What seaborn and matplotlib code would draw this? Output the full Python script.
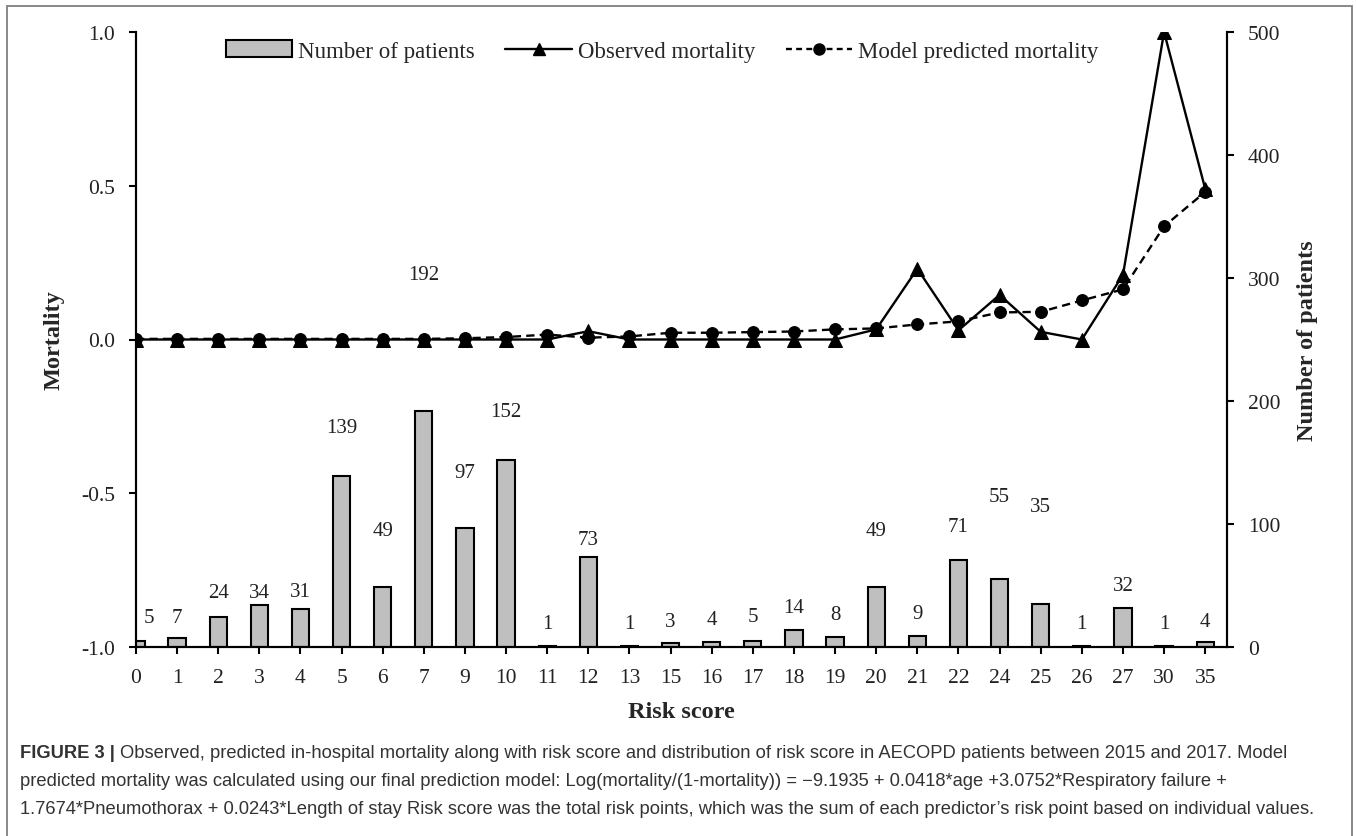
import numpy as np
import pandas as pd
import seaborn as sns
import matplotlib.pyplot as plt
from matplotlib.lines import Line2D
from matplotlib.patches import Patch, Rectangle

# risk score categories (x axis)
scores = ['0', '1', '2', '3', '4', '5', '6', '7', '9', '10', '11', '12', '13', '15',
          '16', '17', '18', '19', '20', '21', '22', '24', '25', '26', '27', '30', '35']

# number of patients per score (right axis)
patients = [5, 7, 24, 34, 31, 139, 49, 192, 97, 152, 1, 73, 1, 3,
            4, 5, 14, 8, 49, 9, 71, 55, 35, 1, 32, 1, 4]

# observed mortality (left axis)
observed = [0, 0, 0, 0, 0, 0, 0, 0, 0, 0, 0, 0.027, 0, 0,
            0, 0, 0, 0, 0.033, 0.23, 0.03, 0.145, 0.025, 0, 0.21, 1.0, 0.49]

# model predicted mortality (left axis)
predicted = [0.002, 0.002, 0.002, 0.002, 0.002, 0.002, 0.002, 0.002, 0.004, 0.008, 0.016, 0.006, 0.01, 0.022,
             0.022, 0.024, 0.026, 0.033, 0.036, 0.049, 0.059, 0.088, 0.09, 0.127, 0.163, 0.368, 0.48]

# where each count label sits relative to its bar top (px), as placed in the original
label_lift = [23, 21, 25, 13, 17, 49, 56, 136, 55, 49, 22, 18, 22, 22,
              23, 24, 22, 23, 56, 22, 33, 83, 97, 22, 22, 22, 21]
label_dx = [13] + [0] * 26

caption = [
    "Observed, predicted in-hospital mortality along with risk score and distribution of risk score in AECOPD patients between 2015 and 2017. Model",
    "predicted mortality was calculated using our final prediction model: Log(mortality/(1-mortality)) = \u22129.1935 + 0.0418*age +3.0752*Respiratory failure +",
    "1.7674*Pneumothorax + 0.0243*Length of stay Risk score was the total risk points, which was the sum of each predictor\u2019s risk point based on individual values.",
]

df = pd.DataFrame({'pos': np.arange(len(scores)), 'score': scores,
                   'patients': patients, 'observed': observed, 'predicted': predicted})

sns.set_style('white')
plt.rcParams['font.family'] = ['Liberation Serif', 'DejaVu Serif']

W, H = 1357, 837
fig = plt.figure(figsize=(W / 100, H / 100), dpi=100)
ax = fig.add_axes([136 / W, 1 - 648 / H, (1227 - 136) / W, (648 - 33) / H])
ax2 = ax.twinx()

bar_gray = '#bfbfbf'
txt = '#222222'

# bars on right axis
sns.barplot(data=df, x='pos', y='patients', native_scale=True, width=0.42,
            color=bar_gray, edgecolor='black', linewidth=1.5, saturation=1, ax=ax2)

for p, n, lift, dx in zip(df['pos'], df['patients'], label_lift, label_dx):
    ax2.annotate(str(n), (p, n), xytext=(dx * 0.72, lift * 0.72), textcoords='offset points',
                 ha='center', va='center', fontsize=15, color=txt)

# mortality lines on left axis
sns.lineplot(data=df, x='pos', y='observed', ax=ax, color='black', linewidth=1.7,
             marker='^', markersize=9.5, markeredgecolor='black', errorbar=None)
sns.lineplot(data=df, x='pos', y='predicted', ax=ax, color='black', linewidth=1.7,
             linestyle=(0, (3.5, 2.2)), marker='o', markersize=8.5,
             markeredgecolor='black', errorbar=None)
ax.set_zorder(ax2.get_zorder() + 1)
ax.patch.set_visible(False)

ax.set_xlim(0, 26.53)
ax.set_ylim(-1, 1)
ax2.set_ylim(0, 500)
ax.set_yticks([-1, -0.5, 0, 0.5, 1])
ax.set_yticklabels(['-1.0', '-0.5', '0.0', '0.5', '1.0'])
ax2.set_yticks([0, 100, 200, 300, 400, 500])
ax.set_xticks(df['pos'])
ax.set_xticklabels(scores)

for a in (ax, ax2):
    for s in a.spines.values():
        s.set_linewidth(1.5)
        s.set_color('black')
    a.spines['top'].set_visible(False)
    a.tick_params(direction='out', length=5, width=1.5, labelsize=15.5, colors='black',
                  labelcolor=txt)
ax.tick_params(axis='y', pad=10, left=True, right=False)
ax.tick_params(axis='x', pad=10, bottom=True)
ax2.tick_params(axis='y', pad=10, right=True, left=False)

ax.set_xlabel('Risk score', fontsize=17.5, fontweight='bold', labelpad=10)
ax.set_ylabel('Mortality', fontsize=17.5, fontweight='bold', labelpad=12)
ax2.set_ylabel('Number of patients', fontsize=17.5, fontweight='bold', labelpad=12)

handles = [
    Patch(facecolor=bar_gray, edgecolor='black', linewidth=1.5, label='Number of patients'),
    Line2D([], [], color='black', linewidth=1.7, marker='^', markersize=8, label='Observed mortality'),
    Line2D([], [], color='black', linewidth=1.7, linestyle=(0, (2.5, 1.8)), marker='o', markersize=8,
           label='Model predicted mortality'),
]
fig.legend(handles=handles, loc='center', bbox_to_anchor=(662 / W, 1 - 52 / H), ncol=3,
           frameon=False, fontsize=16.5, handlelength=2.9, handleheight=0.7,
           handletextpad=0.25, columnspacing=1.35)

# outer frame and caption
fig.add_artist(Rectangle((7 / W, -0.01), (1352 - 7) / W, 1.01 - 7 / H, transform=fig.transFigure,
                         fill=False, edgecolor='#7f7f7f', linewidth=1.3))

cap_font = ['Liberation Sans', 'DejaVu Sans']
cap_size = 13.2
cap_y = [754, 782, 810]
bold = fig.text(20 / W, 1 - cap_y[0] / H, 'FIGURE 3 |', family=cap_font, fontsize=cap_size,
                fontweight='bold', color='#333333', va='center')
fig.canvas.draw()
bb = bold.get_window_extent()
fig.text((bb.x1 + 5) / W, 1 - cap_y[0] / H, caption[0], family=cap_font, fontsize=cap_size,
         color='#333333', va='center')
for line, y in zip(caption[1:], cap_y[1:]):
    fig.text(20 / W, 1 - y / H, line, family=cap_font, fontsize=cap_size, color='#333333', va='center')

fig.savefig('out.png', dpi=100)
